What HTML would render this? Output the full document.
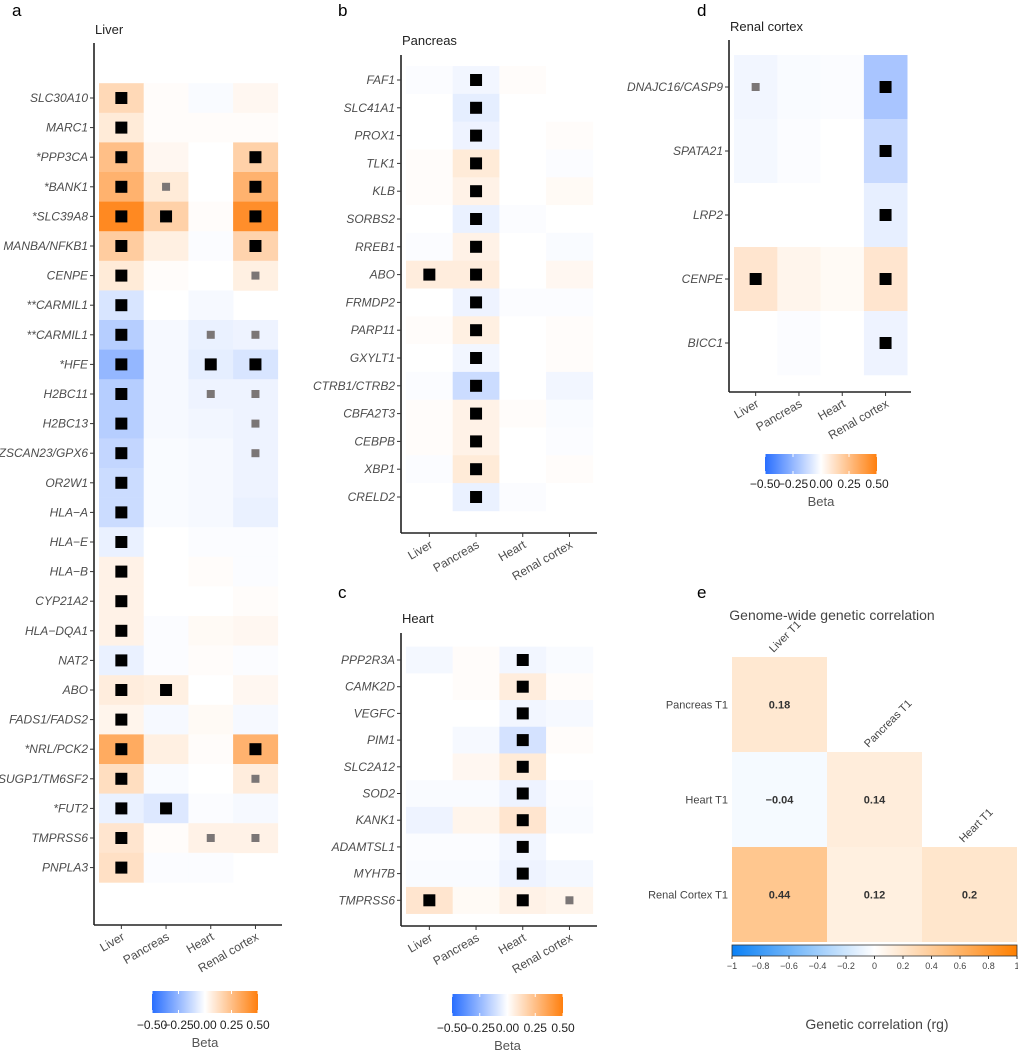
<!DOCTYPE html>
<html><head><meta charset="utf-8">
<style>
html,body{margin:0;padding:0;background:#fff;}
svg{display:block;font-family:"Liberation Sans",Arial,sans-serif;}
.gl{font-style:italic;font-size:12px;fill:#4d4d4d;}
.xl{font-size:12px;fill:#4d4d4d;}
.tt{font-size:13px;fill:#222;}
.lt{font-size:17px;fill:#000;}
</style></head>
<body>
<svg id="fig" width="1018" height="1050" viewBox="0 0 1018 1050"></svg>
<script>
// ---- data ----
const tissues = ["Liver","Pancreas","Heart","Renal cortex"];
const genesA = ["SLC30A10","MARC1","*PPP3CA","*BANK1","*SLC39A8","MANBA/NFKB1","CENPE","**CARMIL1","**CARMIL1","*HFE","H2BC11","H2BC13","ZSCAN23/GPX6","OR2W1","HLA\u2212A","HLA\u2212E","HLA\u2212B","CYP21A2","HLA\u2212DQA1","NAT2","ABO","FADS1/FADS2","*NRL/PCK2","SUGP1/TM6SF2","*FUT2","TMPRSS6","PNPLA3"];
const betaA = [[0.15,0.01,-0.015,0.03],[0.08,0.01,0.01,0.01],[0.25,0.03,0,0.18],[0.3,0.08,0,0.3],[0.46,0.18,0.01,0.44],[0.2,0.06,-0.01,0.17],[0.08,0.01,0,0.06],[-0.09,0,-0.02,null],[-0.17,-0.02,-0.05,-0.04],[-0.25,-0.02,-0.06,-0.09],[-0.17,-0.02,-0.04,-0.04],[-0.17,-0.02,-0.03,-0.04],[-0.14,-0.015,-0.02,-0.04],[-0.12,-0.015,-0.02,-0.04],[-0.12,-0.015,-0.02,-0.05],[-0.05,0,-0.01,-0.01],[0.05,0,0.01,-0.01],[0.05,0,0,0.01],[0.05,-0.01,0.02,0.03],[-0.05,-0.01,0.01,-0.01],[0.07,0.06,0,0.03],[0.04,-0.02,0.02,-0.02],[0.33,0.06,0.01,0.3],[0.13,-0.015,0,0.07],[-0.05,-0.08,-0.01,-0.02],[0.1,0.01,0.05,0.05],[0.12,-0.01,-0.01,null]];
const markA = [[2,0,0,0],[2,0,0,0],[2,0,0,2],[2,1,0,2],[2,2,0,2],[2,0,0,2],[2,0,0,1],[2,0,0,0],[2,0,1,1],[2,0,2,2],[2,0,1,1],[2,0,0,1],[2,0,0,1],[2,0,0,0],[2,0,0,0],[2,0,0,0],[2,0,0,0],[2,0,0,0],[2,0,0,0],[2,0,0,0],[2,2,0,0],[2,0,0,0],[2,0,0,2],[2,0,0,1],[2,2,0,0],[2,0,1,1],[2,0,0,0]];
const genesB = ["FAF1","SLC41A1","PROX1","TLK1","KLB","SORBS2","RREB1","ABO","FRMDP2","PARP11","GXYLT1","CTRB1/CTRB2","CBFA2T3","CEBPB","XBP1","CRELD2"];
const betaB = [[-0.01,-0.03,0.01,0],[0,-0.06,0,0],[0,-0.04,0,0.01],[0.01,0.08,0,-0.01],[0.01,0.05,0,0.02],[0,-0.05,-0.01,0],[-0.01,0.05,0,-0.015],[0.07,0.07,0,0.03],[0,-0.04,-0.01,-0.01],[0.01,0.06,0,0.01],[0,-0.03,0,0.01],[-0.01,-0.12,0,-0.03],[0.01,0.05,0.01,-0.015],[0.01,0.05,0,-0.01],[-0.01,0.08,0,0.01],[0,-0.05,-0.01,0]];
const markB = [[0,2,0,0],[0,2,0,0],[0,2,0,0],[0,2,0,0],[0,2,0,0],[0,2,0,0],[0,2,0,0],[2,2,0,0],[0,2,0,0],[0,2,0,0],[0,2,0,0],[0,2,0,0],[0,2,0,0],[0,2,0,0],[0,2,0,0],[0,2,0,0]];
const genesC = ["PPP2R3A","CAMK2D","VEGFC","PIM1","SLC2A12","SOD2","KANK1","ADAMTSL1","MYH7B","TMPRSS6"];
const betaC = [[-0.025,0.01,-0.03,-0.015],[0,0.01,0.07,0.01],[0,0,-0.03,-0.02],[0,-0.02,-0.1,0.01],[0,0.03,0.08,0],[-0.015,-0.015,-0.04,-0.01],[-0.04,0.04,0.1,-0.015],[-0.01,-0.01,-0.03,0],[-0.015,-0.015,-0.04,-0.025],[0.1,0.02,0.05,0.04]];
const markC = [[0,0,2,0],[0,0,2,0],[0,0,2,0],[0,0,2,0],[0,0,2,0],[0,0,2,0],[0,0,2,0],[0,0,2,0],[0,0,2,0],[2,0,2,1]];
const genesD = ["DNAJC16/CASP9","SPATA21","LRP2","CENPE","BICC1"];
const betaD = [[-0.03,-0.015,-0.01,-0.2],[-0.025,-0.01,0,-0.13],[0,0,0,-0.055],[0.1,0.04,0.02,0.1],[0,-0.01,0,-0.04]];
const markD = [[1,0,0,2],[0,0,0,2],[0,0,0,2],[2,0,0,2],[0,0,0,2]];
const betaTicks = [-0.5,-0.25,0,0.25,0.5];
const betaTickLabels = ["\u22120.50","\u22120.25","0.00","0.25","0.50"];
const rgRows = ["Pancreas T1","Heart T1","Renal Cortex T1"];
const rgCols = ["Liver T1","Pancreas T1","Heart T1"];
const rgValues = [[0.18,null,null],[-0.04,0.14,null],[0.44,0.12,0.2]];
const rgLabels = [["0.18","",""],["\u22120.04","0.14",""],["0.44","0.12","0.2"]];
const rgTicks = [-1,-0.8,-0.6,-0.4,-0.2,0,0.2,0.4,0.6,0.8,1];
const rgTickLabels = ["\u22121","\u22120.8","\u22120.6","\u22120.4","\u22120.2","0","0.2","0.4","0.6","0.8","1"];

// ---- helpers ----
const NS="http://www.w3.org/2000/svg";
const svg=document.getElementById('fig');
function mk(tag,attrs,parent){const e=document.createElementNS(NS,tag);for(const k in attrs)e.setAttribute(k,attrs[k]);(parent||svg).appendChild(e);return e;}
function txt(s,attrs,parent){const e=mk('text',attrs,parent);e.textContent=s;return e;}
const POS=[255,127,14], NEG=[40,110,255];
function col(v,max){
  let f=Math.max(-1,Math.min(1,v/max));
  const c=f>=0?POS:NEG; f=Math.abs(f);
  return 'rgb('+c.map(x=>Math.round(255+(x-255)*f)).join(',')+')';
}
function panel(cfg){
  const g=mk('g',{});
  
  
  const xs=i=>cfg.x0+cfg.cw*(i+0.5);
  const ys=j=>cfg.y0+cfg.rh*j;
  cfg.beta.forEach((row,j)=>row.forEach((v,i)=>{
    if(v===null)return;
    const r=mk('rect',{x:cfg.x0+cfg.cw*i,y:ys(j)-cfg.rh/2,width:cfg.cw+0.3,height:cfg.rh+0.3,fill:col(v,0.5)},g);
    
    
    const m=cfg.mark[j][i];
    if(m){const s=m===2?12:8;
      const q=mk('rect',{x:xs(i)-s/2,y:ys(j)-s/2,width:s,height:s,fill:m===2?'#000':'#7b7676'},g);
      
      }
  }));
  mk('line',{x1:cfg.ax,y1:cfg.top,x2:cfg.ax,y2:cfg.bot,stroke:'#222','stroke-width':1.6},g);
  mk('line',{x1:cfg.ax,y1:cfg.bot,x2:cfg.xend,y2:cfg.bot,stroke:'#222','stroke-width':1.6},g);
  cfg.genes.forEach((s,j)=>{
    mk('line',{x1:cfg.ax-4,y1:ys(j),x2:cfg.ax,y2:ys(j),stroke:'#333'},g);
    const t=txt(s,{x:cfg.ax-6,y:ys(j)+4,'text-anchor':'end',class:'gl'},g);
    
    
  });
  tissues.forEach((s,i)=>{
    mk('line',{x1:xs(i),y1:cfg.bot,x2:xs(i),y2:cfg.bot+4,stroke:'#333'},g);
    const t=txt(s,{x:xs(i)+4,y:cfg.bot+14,'text-anchor':'end',class:'xl',transform:'rotate(-30 '+(xs(i)+4)+' '+(cfg.bot+14)+')'},g);
    
    
  });
  const tt=txt(cfg.title,{x:cfg.ax+1,y:cfg.ty,class:'tt'},g);
  
  
  const lt=txt(cfg.letter,{x:cfg.lx,y:cfg.ly,class:'lt'},g);
  
  
}
let gid=0;
function colorbar(x,y,w,h,cfgTicks,labels,minV,maxV,colorFn,withTitle,fs,tickY){
  const g=mk('g',{});
  
  
  const id='grad'+(gid++);
  const defs=mk('defs',{},g);
  const lg=mk('linearGradient',{id:id,x1:0,x2:1,y1:0,y2:0},defs);
  for(let k=0;k<=20;k++){const v=minV+(maxV-minV)*k/20;mk('stop',{offset:(k*5)+'%','stop-color':colorFn(v)},lg);}
  mk('rect',{x:x,y:y,width:w,height:h,fill:'url(#'+id+')'},g);
  const sx=v=>x+(v-minV)/(maxV-minV)*w;
  cfgTicks.forEach((v,i)=>{
    if(withTitle){mk('line',{x1:sx(v),y1:y,x2:sx(v),y2:y+3,stroke:'#fff'},g);mk('line',{x1:sx(v),y1:y+h-3,x2:sx(v),y2:y+h,stroke:'#fff'},g);}
    else mk('line',{x1:sx(v),y1:y+h,x2:sx(v),y2:y+h+3,stroke:'#333'},g);
    txt(labels[i],{x:sx(v),y:tickY,'text-anchor':'middle','font-size':fs,fill:withTitle?'#222':'#444'},g);
  });
  if(withTitle) txt('Beta',{x:x+w/2,y:tickY+18,'text-anchor':'middle','font-size':13,fill:'#555'},g);
  return g;
}
// ---- panels ----
panel({name:'panel-a-liver',genes:genesA,beta:betaA,mark:markA,ax:94,top:43,bot:925,xend:282,x0:99,cw:44.7,y0:98,rh:29.6,title:'Liver',ty:34,letter:'a',lx:12,ly:16});
panel({name:'panel-b-pancreas',genes:genesB,beta:betaB,mark:markB,ax:401,top:55,bot:533,xend:597,x0:406,cw:46.7,y0:80,rh:27.8,title:'Pancreas',ty:45,letter:'b',lx:338,ly:16});
panel({name:'panel-c-heart',genes:genesC,beta:betaC,mark:markC,ax:401,top:633,bot:926,xend:597,x0:406,cw:46.7,y0:660,rh:26.7,title:'Heart',ty:623,letter:'c',lx:338,ly:598});
panel({name:'panel-d-renal-cortex',genes:genesD,beta:betaD,mark:markD,ax:729,top:40,bot:392,xend:911,x0:734,cw:43.3,y0:87,rh:64,title:'Renal cortex',ty:31,letter:'d',lx:697,ly:16});
const bcol=v=>col(v,0.5);
colorbar(152,991,106,22,betaTicks,betaTickLabels,-0.5,0.5,bcol,true,12,1029);
colorbar(452,994,111,22,betaTicks,betaTickLabels,-0.5,0.5,bcol,true,12,1032);
colorbar(765,454,112,20,betaTicks,betaTickLabels,-0.5,0.5,bcol,true,12,488);
// ---- panel e ----
(function(){
  const g=mk('g',{});
  
  
  const x0=732,y0=657,cw=95,rh=95;
  const ecol=v=>{let f=Math.max(-1,Math.min(1,v));const c=f>=0?[255,128,0]:[10,128,245];f=Math.abs(f);return 'rgb('+c.map(x=>Math.round(255+(x-255)*f)).join(',')+')';};
  const lt=txt('e',{x:697,y:598,class:'lt'},g);
  
  
  const t=txt('Genome-wide genetic correlation',{x:832,y:620,'text-anchor':'middle','font-size':14,fill:'#444'},g);
  
  
  rgValues.forEach((row,j)=>row.forEach((v,i)=>{
    if(v===null)return;
    const r=mk('rect',{x:x0+cw*i,y:y0+rh*j,width:cw,height:rh,fill:ecol(v)},g);
    
    
    txt(rgLabels[j][i],{x:x0+cw*(i+0.5),y:y0+rh*(j+0.5)+4,'text-anchor':'middle','font-size':11,'font-weight':'bold',fill:'#333'},g);
  }));
  rgRows.forEach((s,j)=>{const r=txt(s,{x:x0-4,y:y0+rh*(j+0.5)+4,'text-anchor':'end','font-size':11,fill:'#444'},g);
    });
  rgCols.forEach((s,i)=>{const cx=x0+cw*(i+0.5)-6,cy=y0+rh*i-4;
    const c=txt(s,{x:cx,y:cy,'font-size':11,fill:'#444',transform:'rotate(-45 '+cx+' '+cy+')'},g);
    });
  const cb=colorbar(x0,945,285,11,rgTicks,rgTickLabels,-1,1,ecol,false,9,969);
  mk('rect',{x:x0,y:945,width:285,height:11,fill:'none',stroke:'#333','stroke-width':0.8},cb);
  const at=txt('Genetic correlation (rg)',{x:877,y:1029,'text-anchor':'middle','font-size':14,fill:'#444'},g);
  
  
})();
</script>
</body></html>
